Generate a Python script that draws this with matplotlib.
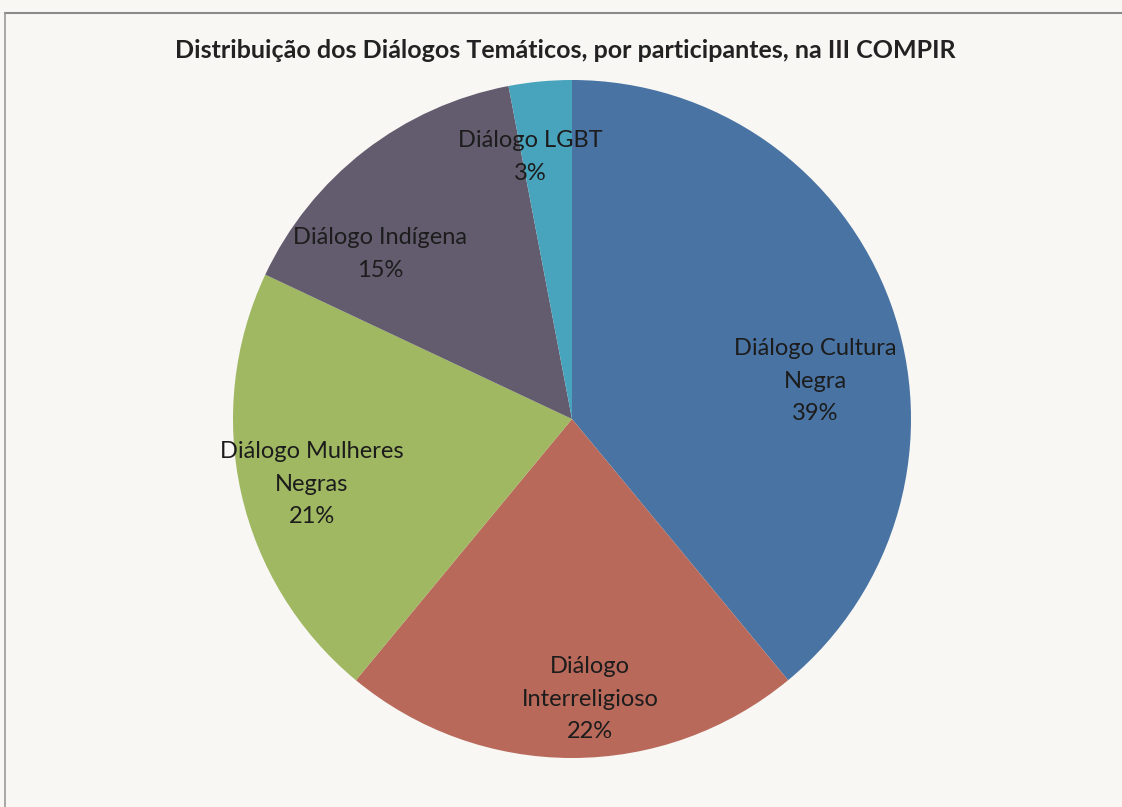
import matplotlib.pyplot as plt
from matplotlib.lines import Line2D

categories = ["Diálogo Cultura\nNegra", "Diálogo\nInterreligioso", "Diálogo Mulheres\nNegras",
              "Diálogo Indígena", "Diálogo LGBT"]
shares = [39, 22, 21, 15, 3]
colors = ["#4873a3", "#b8695a", "#a0b862", "#625c6e", "#48a3bd"]

# label centres, in pie radius units from the centre
label_pos = [(0.717, 0.112), (0.053, -0.826), (-0.767, -0.192), (-0.566, 0.487), (-0.124, 0.773)]

W, H = 1122, 807
fig = plt.figure(figsize=(W / 100, H / 100), dpi=100)
fig.patch.set_facecolor("#f8f7f4")
ax = fig.add_axes([0, 0, 1, 1])

cx, cy, R = 572, H - 419, 339
wedges, _ = ax.pie(shares, colors=colors, startangle=90, counterclock=False,
                   center=(cx, cy), radius=R, frame=True)
ax.set_xlim(0, W)
ax.set_ylim(0, H)
ax.set_aspect("equal")
ax.axis("off")

for cat, val, (px, py) in zip(categories, shares, label_pos):
    ax.text(cx + px * R, cy + py * R, f"{cat}\n{val}%", ha="center", va="center",
            fontsize=17, family="Lato", color="#1c1c1c", linespacing=1.7)

ax.text(565, H - 50, "Distribuição dos Diálogos Temáticos, por participantes, na III COMPIR",
        ha="center", va="center", fontsize=18, fontweight="bold", family="Lato", color="#222222")

# frame of the scanned chart (top and left edges)
fig.add_artist(Line2D([5 / W, 1], [1 - 13 / H, 1 - 13 / H], color="#8a8a8a", lw=1.5))
fig.add_artist(Line2D([5 / W, 5 / W], [0, 1 - 13 / H], color="#9a9a9a", lw=1.2))

fig.savefig("out.png", dpi=100, facecolor=fig.get_facecolor())
